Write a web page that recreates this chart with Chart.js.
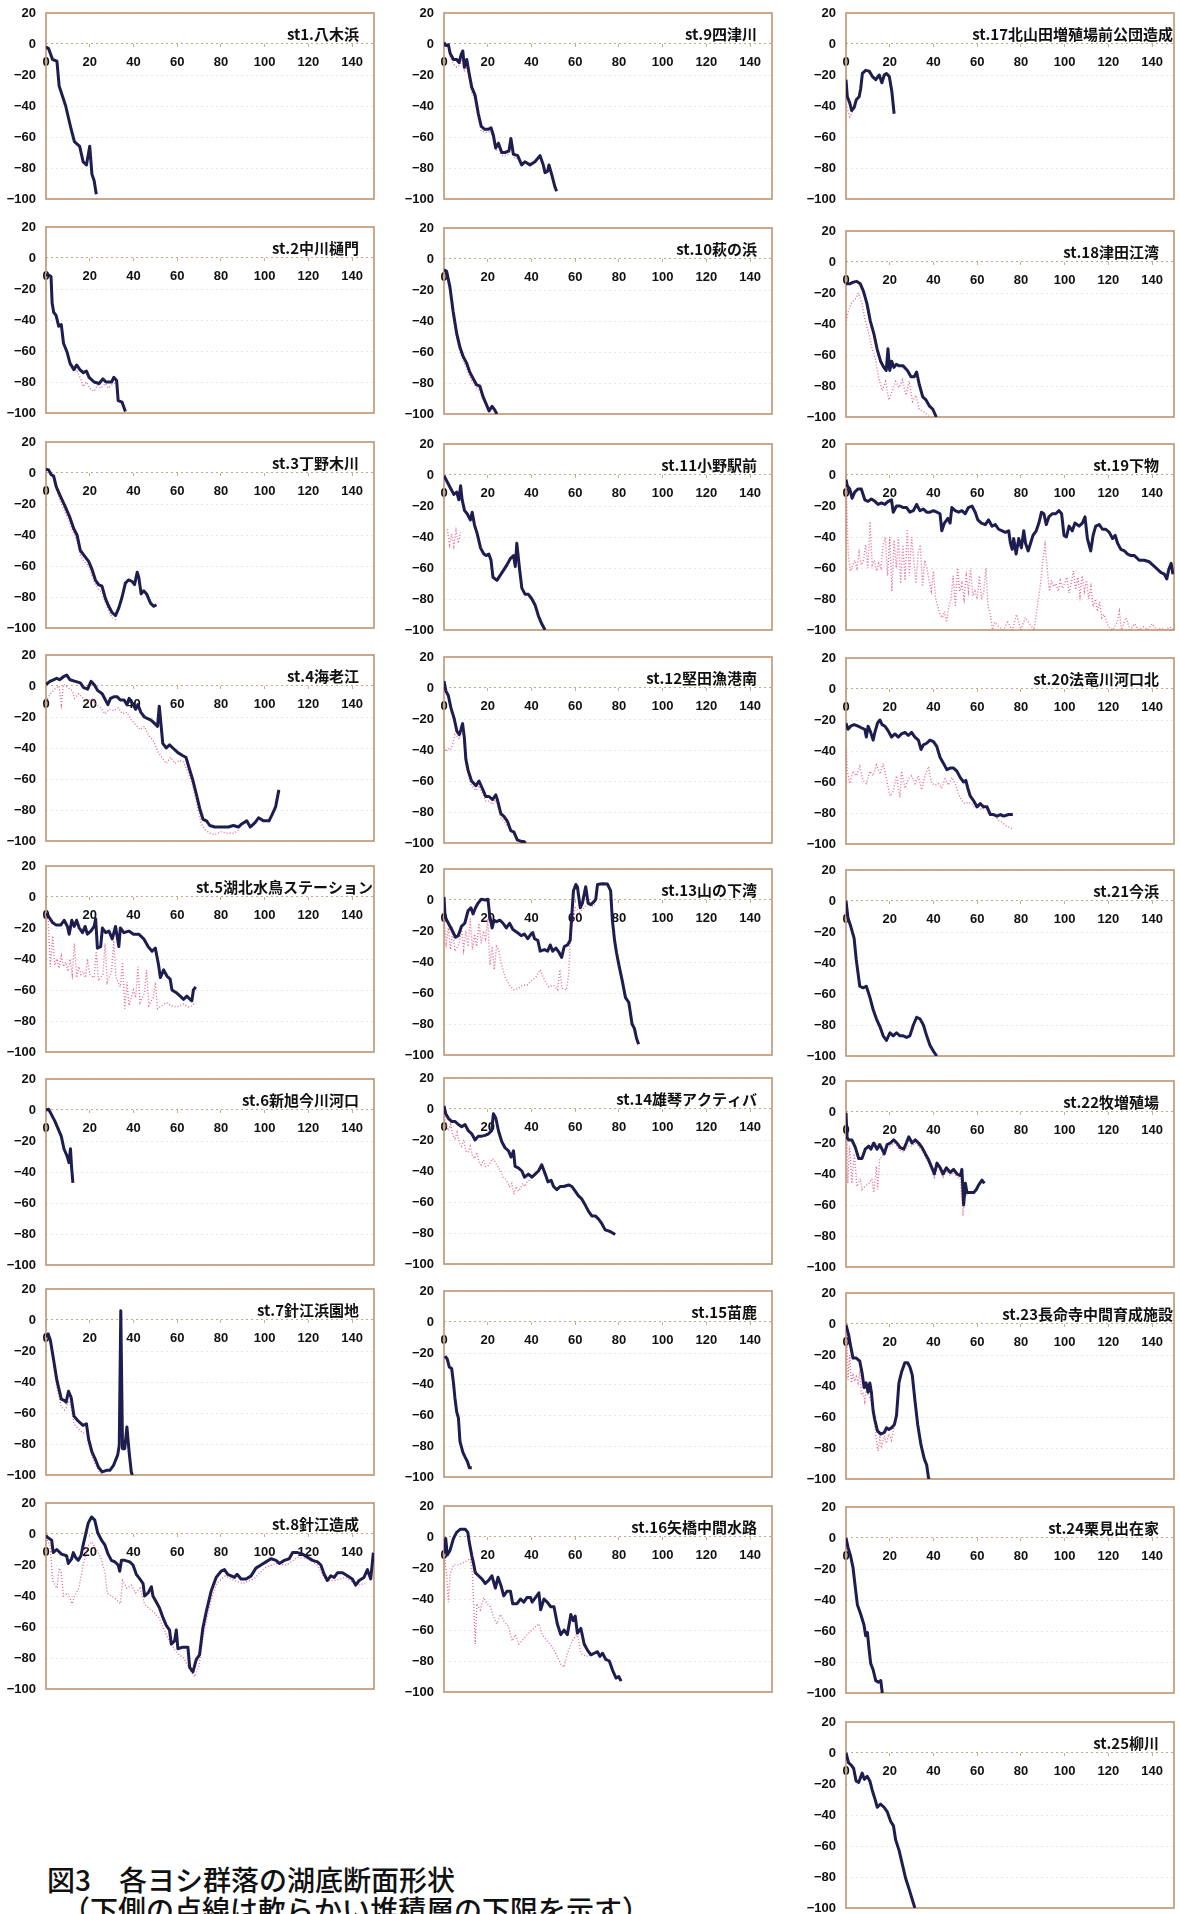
<!DOCTYPE html>
<html lang="ja">
<head>
<meta charset="utf-8">
<script src="https://cdn.jsdelivr.net/npm/chart.js@4.4.1/dist/chart.umd.min.js"></script>
<style>
  html, body { margin: 0; padding: 0; background: #fff; }
  body { width: 1180px; height: 1914px; position: relative; overflow: hidden; }
  .panel { position: absolute; }
  .caption { position: absolute; font-family: "Noto Sans CJK JP", sans-serif; font-weight: 500; color: #111; white-space: nowrap; line-height: 1; }
</style>
</head>
<body>
<div class="caption" style="left:47px; top:1865px; font-size:28px;">図3　各ヨシ群落の湖底断面形状</div>
<div class="caption" style="left:62px; top:1895px; font-size:28px;">（下側の点線は軟らかい堆積層の下限を示す）</div>

<script>
// station names, in panel order (columns top to bottom)
const titles = [
  'st1.八木浜', 'st.2中川樋門', 'st.3丁野木川', 'st.4海老江', 'st.5湖北水鳥ステーション',
  'st.6新旭今川河口', 'st.7針江浜園地', 'st.8針江造成',
  'st.9四津川', 'st.10萩の浜', 'st.11小野駅前', 'st.12堅田漁港南', 'st.13山の下湾',
  'st.14雄琴アクティバ', 'st.15苗鹿', 'st.16矢橋中間水路',
  'st.17北山田増殖場前公団造成', 'st.18津田江湾', 'st.19下物', 'st.20法竜川河口北', 'st.21今浜',
  'st.22牧増殖場', 'st.23長命寺中間育成施設', 'st.24栗見出在家', 'st.25柳川'
];

const xTicks = [0, 20, 40, 60, 80, 100, 120, 140];
const yTicks = [20, 0, -20, -40, -60, -80, -100];

// lake bottom profile [distance, depth] (solid) and lower limit of soft layer (dotted)
const bed1 = [[0,-2],[1.2,-3],[3,-10],[5,-11],[6,-27],[9,-40],[11.5,-55],[13,-63],[15.4,-66],[17,-76],[18.5,-78],[20,-66],[21,-84],[22,-88],[23,-97]];
const soft1 = [];
const bed2 = [[0,-11],[1.2,-11],[2.3,-12],[2.8,-29],[3.5,-35],[4.6,-37],[5.8,-44],[7,-43],[8,-55],[9.7,-61],[11,-68],[12.8,-72],[14,-69],[15.5,-72],[17,-74],[18.5,-73],[19.7,-77],[22,-80],[24.3,-81],[26,-78],[27.4,-80],[30,-80],[31,-77],[32.3,-79],[33,-92],[34.8,-93],[36.3,-99]];
const soft2 = [[11,-69],[12.5,-73],[14,-72],[15.5,-77],[17,-83],[18.5,-80],[20,-84],[22,-86],[23.5,-82],[25,-84],[27,-81],[28.5,-84],[30,-82],[32,-80]];
const bed3 = [[0,2.5],[1.2,2],[2.3,-1],[3.5,-2],[4.7,-9],[6.6,-15],[8.9,-22],[11,-29],[12.7,-36],[14.2,-40],[15.7,-50],[17.3,-53],[19.5,-57],[21,-62],[22.6,-69],[24,-72],[25.6,-73],[27.2,-81],[28.7,-86],[30.2,-90],[31.8,-92],[33.3,-87],[34.8,-80],[36.3,-71],[37.8,-69],[39.4,-70],[40.5,-72],[41.7,-64],[42.4,-67],[43.5,-78],[44.7,-76],[46,-78],[47.8,-84],[49.3,-86],[50.5,-85]];
const soft3 = [[4.7,-11],[6.6,-18],[8.9,-26],[11,-33],[12.7,-39],[14.2,-44],[15.7,-53],[17.3,-57],[19.5,-60],[21,-66],[22.6,-72],[24,-75],[25.6,-77],[27.2,-84],[28.7,-89],[30.2,-93],[31.8,-95]];
const bed4 = [[0,1],[1.8,3],[3.4,4],[4.9,5],[6.2,4],[8,6],[9.5,7],[11,4],[13.4,3],[15.7,2],[17.2,-1],[19,-2],[20.6,3],[22,1],[23.7,-3],[25.7,-5],[27.2,-9],[28.3,-12],[29.5,-8],[31,-7],[32.6,-7],[34,-9],[35.7,-9],[37,-12],[38,-8],[39.5,-11],[41,-15],[42,-12],[43.4,-17],[45,-20],[46.5,-21],[48,-22],[49.5,-24],[51,-26],[51.8,-13],[52.6,-25],[53.4,-37],[55,-40],[56.5,-38],[58,-40],[60.3,-43],[62.6,-45],[64,-46],[65.7,-54],[67.2,-61],[68.8,-70],[70.3,-79],[71.8,-86],[73.4,-87],[74.9,-90],[77.2,-91],[80.3,-91],[83.4,-91],[85.7,-90],[88,-91],[89.5,-89],[91.8,-87],[93.4,-91],[95.7,-88],[97.2,-85],[99.5,-87],[102,-87],[103.4,-83],[105,-78],[106.5,-67]];
const soft4 = [[0,-10],[2,-5],[4,-2],[6,0],[7,-12],[8,1],[10,-1],[12,-3],[13,-8],[15,-5],[17,-8],[19,-10],[21,-8],[23,-12],[25,-14],[27,-18],[29,-15],[31,-16],[33,-14],[35,-18],[37,-17],[39,-22],[41,-25],[43,-28],[45,-26],[47,-32],[49,-35],[51,-42],[53,-46],[55,-50],[57,-46],[59,-50],[61,-48],[63,-49],[65,-56],[67,-64],[69,-76],[71,-89],[73,-93],[75,-95],[77,-96],[80,-94],[83,-95],[86,-95],[88,-93]];
const bed5 = [[0,-10.5],[1.2,-12.6],[3,-16.5],[4.5,-18],[6.8,-18],[8.3,-15],[9.8,-19],[10.6,-24],[11.8,-15],[12.9,-19],[14,-15],[15.2,-20],[16.7,-23],[17.9,-19],[18.9,-24],[20.5,-22],[22,-19],[22.7,-14],[23.5,-33],[25,-32],[25.8,-20],[27.3,-23],[28.8,-22],[30.3,-27],[31.8,-19],[33.3,-32],[34,-20],[35.6,-23],[37.9,-22],[40,-24],[42.4,-24],[44.7,-27],[46.7,-32],[48.5,-35],[50,-33],[51.5,-44],[52.3,-52],[53.8,-47],[55.3,-51],[56.8,-53],[57.6,-60],[59.8,-62],[61.4,-64],[62.9,-66],[64.4,-64],[65.9,-66],[66.7,-67],[67.4,-60],[68.5,-58]];
const soft5 = [[0,-12],[1,-15],[2,-45],[3,-25],[4,-44],[5,-40],[6,-46],[7,-38],[8,-45],[9,-42],[10,-48],[11,-40],[12,-50],[13,-30],[14,-52],[15,-45],[16,-50],[17,-48],[18,-52],[19,-40],[20,-50],[22,-52],[23,-35],[24,-54],[26,-50],[27,-30],[28,-55],[30,-48],[31,-28],[32,-52],[34,-58],[35,-42],[36,-72],[37,-55],[38,-70],[40,-60],[41,-65],[42,-45],[43,-68],[45,-62],[46,-47],[47,-70],[49,-65],[50,-55],[51,-72],[53,-70],[55,-68],[57,-70],[60,-71],[63,-69],[65,-71],[67,-70],[68,-68]];
const bed6 = [[0,0],[1.2,0.5],[2.5,-3],[4,-7],[5.8,-13],[7,-17],[8.2,-25],[9.7,-30],[10.5,-34],[11.2,-25],[11.7,-37],[12.3,-47]];
const soft6 = [];
const bed7 = [[0,-11],[1,-9],[2,-13],[3.5,-26],[5,-39],[7,-51],[8.5,-52],[9.2,-53],[10.3,-46],[11.5,-50],[12.8,-62],[14.6,-65],[16.9,-68],[18.5,-67],[19.5,-77],[21,-85],[22.6,-90],[24,-95],[25.7,-98],[27.7,-97],[29.2,-97],[30.8,-94],[32.8,-87],[33.5,-81],[34.2,6],[35,-83],[36,-83],[37,-69],[38,-85],[39,-98],[39.5,-100]];
const soft7 = [[3.5,-30],[5,-44],[7,-56],[8.5,-58],[9.2,-57],[10.3,-52],[11.5,-56],[12.8,-67],[14.6,-70],[16.9,-73],[18.5,-72],[19.5,-80],[21,-88],[22.6,-93],[24,-97],[25.7,-100]];
const bed8 = [[0,-1],[0.6,-2],[2.6,-4],[3.3,-12],[4.9,-10],[7.1,-13],[9.4,-14],[10.2,-19],[11.7,-16],[12.5,-12],[13.5,-15],[14.7,-17],[16,-14],[17,-7],[18,-1],[19.3,7],[20.8,11],[22.3,9],[23.6,1],[25.4,-4],[26.9,-7],[28.4,-13],[29.9,-17],[31.5,-18],[33,-20],[33.7,-24],[34.5,-17],[36,-17],[38.3,-18],[39.8,-20],[41.3,-26],[42.9,-29],[44.4,-32],[45.1,-40],[46.7,-38],[48.2,-34],[48.9,-40],[50.5,-44],[52,-48],[53.5,-54],[55,-59],[56.5,-62],[57.3,-71],[58.8,-69],[59.6,-62],[60.3,-74],[62.6,-73],[64.9,-73],[65.7,-86],[67.2,-89],[68.7,-81],[70.2,-78],[71.7,-61],[73.3,-50],[75.5,-37],[77.8,-28],[80.1,-24],[81.6,-23],[83.1,-26],[84.7,-27],[86.2,-28],[87.4,-26],[89.2,-29],[91.5,-29],[93.8,-27],[96,-22],[98.3,-20],[100.6,-18],[102.9,-16],[105.2,-17],[106.7,-19],[109,-17],[111.2,-16],[112.8,-12],[115,-12],[117.3,-13],[119.6,-15],[121.9,-17],[124.2,-18],[125.7,-20],[127.2,-26],[128.7,-30],[130.2,-27],[131.8,-28],[133.3,-25],[135.6,-25],[137.8,-27],[140.1,-29],[141.6,-33],[143.2,-30],[145.4,-28],[147,-23],[148.5,-29],[149.7,-12]];
const soft8 = [[0,-2],[2,-8],[3,-30],[5,-35],[6,-22],[7,-25],[8,-40],[10,-38],[12,-45],[13,-40],[15,-35],[17,-20],[19,-8],[21,-5],[23,-10],[25,-15],[27,-25],[28,-38],[30,-40],[32,-42],[34,-45],[35,-30],[37,-35],[39,-33],[41,-38],[43,-35],[45,-45],[47,-48],[49,-50],[52,-55],[55,-65],[57,-70],[59,-75],[61,-78],[63,-80],[66,-88],[68,-92],[70,-85],[72,-65],[75,-45],[78,-32],[82,-27],[86,-30],[90,-32],[95,-29],[100,-22],[105,-19],[110,-20],[115,-15],[120,-16],[124,-20],[128,-30],[132,-30],[137,-28],[142,-33],[146,-32]];
const bed9 = [[0,1],[0.8,-1],[2,-0.5],[2.8,-6],[4.3,-10],[5.8,-10],[6.9,-12],[7.8,-7],[8.6,-4.5],[9.3,-15],[10.4,-10],[11.5,-19],[12.7,-28],[14.2,-33],[15.7,-45],[17,-53],[18.5,-55],[20.3,-55],[21.5,-54],[22.6,-59],[23.6,-67],[24.9,-64],[26.4,-70],[27.9,-70],[29.7,-69],[30.6,-61],[31.7,-71],[33.7,-72],[35.5,-78],[37,-76],[39.3,-78],[41.6,-76],[43.9,-72],[45.4,-78],[46.2,-83],[47.4,-82],[48,-78],[49.2,-84],[50.7,-92],[51.5,-95]];
const soft9 = [[2.8,-8],[4.3,-13],[5.8,-15],[6.9,-14],[8.6,-10],[9.3,-18],[10.4,-14],[11.5,-22],[12.7,-31],[14.2,-36],[15.7,-48],[17,-56],[18.5,-57],[20.3,-57],[21.5,-56],[22.6,-62],[23.6,-69],[24.9,-67],[26.4,-72],[27.9,-72],[29.7,-71],[30.6,-64],[31.7,-73],[33.7,-74]];
const bed10 = [[0,-7],[1.2,-8],[2.7,-18],[4.2,-34],[5.8,-48],[7.3,-57],[8.8,-63],[10.3,-67],[11.8,-73],[13.3,-77],[14.8,-81],[16.4,-82],[17.9,-89],[19.4,-94],[20.6,-98],[22,-95],[23,-97],[24.2,-100]];
const soft10 = [[3,-22],[4.2,-37],[5.8,-51],[7.3,-60],[8.8,-66],[10.3,-70],[11.8,-76],[13.3,-80],[14.8,-83],[16.4,-85],[17.9,-91]];
const bed11 = [[0,-0.5],[1.5,-4.5],[3,-8.5],[4.5,-12.5],[5.8,-11],[6.8,-16],[7.6,-7],[8.3,-16],[9.4,-23],[10.6,-25],[12.1,-29],[12.9,-24],[13.9,-32],[15.2,-38],[16.7,-47],[18.2,-51],[19.4,-52],[20.5,-51],[21.5,-55],[22.4,-66],[24.2,-68],[26.5,-63],[28.8,-58],[30.3,-54],[31.8,-52],[32.6,-59],[33.3,-44],[34.5,-60],[35.6,-73],[37.1,-77],[38.6,-77],[40.2,-80],[41.7,-84],[43.2,-91],[44.7,-96],[46.2,-100]];
const soft11 = [[1.5,-35],[2.5,-45],[3.5,-38],[4.5,-46],[5.5,-36],[6.5,-44],[7.5,-37]];
const bed12 = [[0,4.5],[0.9,-2],[2,-5],[3.2,-13],[4.7,-20],[5.9,-28],[7,-30],[7.7,-27],[8.5,-23],[9.3,-32],[10,-46],[11,-53],[12.6,-60],[14.6,-63],[16,-60],[17.6,-65],[19.1,-70],[20.6,-70],[22.2,-72],[23.7,-69],[24.4,-72],[26,-81],[27.5,-83],[29,-86],[30.5,-92],[32,-93],[33.5,-98],[35.4,-99],[36.6,-99],[37.3,-100]];
const soft12 = [[0,-38],[1,-41],[2,-39],[3,-40],[4,-36],[5,-30],[5.9,-31],[7,-33],[7.7,-30],[8.5,-26],[9.3,-35],[10,-49],[11,-56],[12.6,-63],[14.6,-66],[16,-63],[17.6,-68],[19.1,-73],[20.6,-73],[22.2,-75],[23.7,-72],[24.4,-75],[26,-84],[27.5,-86],[29,-89]];
const bed13 = [[0,2],[0.5,-11],[2,-15],[3.5,-19],[5.3,-24],[6.5,-23],[8,-17],[9.5,-15],[11,-7],[12.3,-5],[13.3,-9],[14.4,-5],[15.6,-2],[17,0.5],[19,0],[20.1,0.5],[20.9,-10],[22,-18],[22.9,-13],[24,-14],[25.5,-13],[27,-15],[28.5,-18],[30,-15],[31.5,-19],[33.5,-21],[35.3,-23],[36.8,-22],[38.3,-25],[39.8,-22],[40.6,-21],[41.4,-25],[42.9,-26],[44,-33],[45.9,-32],[47.4,-33],[48.6,-29],[49.7,-33],[51.2,-31],[52.7,-34],[53.8,-37],[55,-30],[56.5,-29],[57.7,-26],[58.3,-13],[59.2,6],[60.3,10],[61,8.5],[62.3,-5],[63.3,-2],[64.8,8.5],[65.9,-2],[67.1,-3],[68.6,-1],[69.4,0.5],[70.2,10],[72.4,10.5],[74.7,10.3],[76.2,6],[77,-13],[78,-26],[78.9,-34],[80,-42],[81.5,-52],[83,-63],[84.5,-66],[86,-80],[87.1,-83],[88,-89],[89,-93]];
const soft13 = [[0,-12],[1,-28],[2,-18],[3,-32],[4,-20],[5,-33],[7,-28],[8,-18],[9,-32],[10,-20],[11,-30],[12,-12],[13,-32],[14,-22],[15,-30],[16,-15],[17,-28],[18,-20],[19,-25],[20,-12],[21,-42],[22,-30],[23,-45],[24,-30],[25,-32],[26,-40],[28,-50],[30,-55],[32,-58],[34,-57],[36,-55],[38,-55],[40,-52],[42,-50],[44,-45],[46,-52],[48,-56],[50,-55],[52,-58],[53,-45],[54,-57],[56,-58],[57,-48],[58,-20],[60,-5],[62,-8],[64,-5],[66,-2],[68,-4],[69,-3]];
const bed14 = [[0,2],[0.8,-3],[2,-6],[3.5,-8],[5,-8],[6.6,-10],[8.1,-11.5],[9.6,-10],[11.1,-14],[12.7,-16],[14.2,-20],[15.7,-17.5],[17.3,-17.5],[18.8,-17],[20.3,-16],[21.8,-14],[22.6,-3],[23.7,-6],[24.9,-14],[26.4,-21],[27.9,-25],[29.5,-27],[30.7,-31],[31.8,-27],[32.5,-37],[34,-38],[35.6,-40],[36.8,-44],[38.6,-42],[40.2,-44],[41.7,-42],[43.2,-40],[44.7,-36],[46.3,-42],[47.5,-47],[49,-46],[50.1,-50],[51.6,-52],[53.1,-50],[54.7,-50],[57,-49],[58.5,-50],[60,-53],[61.5,-56],[63,-58],[64.6,-62],[66.1,-66],[67.6,-69],[69.2,-69],[70.7,-71],[72.2,-74],[73.7,-78],[76,-79],[78.3,-81]];
const soft14 = [[0,-3],[1,-10],[2,-14],[3,-10],[4,-17],[5,-19],[6,-15],[7,-22],[8,-24],[9,-20],[10,-27],[11,-28],[12,-24],[13,-30],[14,-32],[15,-28],[16,-34],[17,-36],[18,-33],[19,-37],[20,-37],[21,-35],[22,-32],[23,-33],[24,-36],[25,-38],[26,-40],[27,-44],[28,-45],[29,-47],[30,-50],[31,-48],[32,-55],[33,-50],[34,-53],[35,-51],[36,-48],[37,-50],[38,-47],[39,-46],[40,-44],[41,-43]];
const bed15 = [[0.5,-22],[1.5,-24],[2.4,-29],[3.5,-30],[4.3,-39],[5,-49],[5.8,-58],[6.6,-62],[7.3,-77],[8.6,-84],[9.6,-87],[10.7,-90],[11.6,-94],[12.7,-94]];
const soft15 = [];
const bed16 = [[0,-10.6],[0.8,-1],[1.5,-11.6],[2.8,-8.5],[4.3,-1],[5.8,3],[7.4,5],[9.7,5],[10.9,3],[11.5,-3],[12.7,-12],[13.5,-17],[14.3,-23],[15.8,-25],[17.3,-27],[18.9,-30],[20.4,-28],[21.9,-25],[23.5,-33],[24.7,-26],[26.2,-32],[27.3,-38],[28.8,-35],[30.4,-35],[31.4,-43],[33.4,-43],[35,-40],[36.5,-42],[38,-39],[39.6,-39],[40.3,-42],[41.9,-39],[43.4,-36],[44.2,-47],[45.7,-40],[47.2,-42],[48.8,-45],[50.3,-45],[51.8,-56],[53.4,-63],[54.9,-60],[56.4,-63],[58,-50],[59.1,-54],[60,-51],[61,-62],[62.6,-59],[64.1,-69],[65.6,-73],[67.2,-76],[68.7,-75],[70.2,-74],[71.3,-77],[72.5,-75],[74,-79],[75.6,-80],[77.1,-86],[78.7,-91],[79.9,-90],[81,-93]];
const soft16 = [[0,-11],[1.2,-24],[2,-42],[2.8,-24],[4.3,-18],[6.6,-18],[9.7,-16],[12,-14],[13,-24],[14.3,-69],[15,-43],[16.6,-47],[18.1,-39],[19.6,-43],[21.2,-45],[22.7,-52],[24.2,-56],[25.8,-50],[27.3,-54],[29.6,-58],[31.1,-67],[32.7,-63],[34.2,-69],[35.7,-67],[38,-63],[40.3,-60],[43.4,-56],[44.9,-63],[47.2,-67],[49.5,-71],[51.8,-77],[53.4,-82],[54.9,-84],[56.4,-75],[58.7,-67],[61,-62],[62.6,-75],[64.9,-77],[67.9,-76]];
const bed17 = [[0,-23],[0.6,-34],[1.7,-38],[2.6,-43],[3.7,-41],[4.7,-36],[6,-34],[6.7,-29],[7.5,-19],[9,-17],[10.6,-17.5],[12.1,-21],[13.6,-23],[15.2,-20],[16.4,-25],[17.5,-20],[18.5,-19],[19.8,-21],[21,-31],[22,-45]];
const soft17 = [[0,-39],[0.6,-42],[1.7,-47],[2.9,-44],[3.7,-43]];
const bed18 = [[0,-14],[1.9,-14],[3.4,-13],[4.9,-12.5],[6.5,-14],[8,-19],[9.6,-27],[11.1,-38],[12.7,-46],[14.2,-56],[15.8,-64],[17.3,-68],[18.4,-70],[19.2,-56],[20,-70],[20.9,-64],[21.9,-68],[23,-66],[24.3,-67],[26.1,-67],[28.1,-70],[29.7,-74],[31.2,-74],[32.3,-71],[33.5,-79],[35.1,-87],[36.6,-89],[38.2,-93],[39.7,-95],[41.3,-100]];
const soft18 = [[0,-38],[1.1,-32],[2.6,-26],[4.2,-24],[5.7,-20],[7.3,-27],[8.8,-38],[10.4,-46],[11.9,-56],[13.4,-62],[15,-75],[16.5,-83],[18.1,-77],[19.6,-89],[21.2,-83],[22.7,-77],[24.3,-81],[25.8,-76],[27.4,-86],[28.9,-77],[30.4,-90],[32,-86],[33.5,-95],[35.9,-97],[38.2,-100]];
const bed19 = [[0,-3],[0.6,-7],[1.7,-9],[2.8,-15],[4,-11],[5.5,-9],[7,-9],[8.6,-16],[10.1,-17],[11.6,-15.5],[13.2,-17],[14.7,-19],[16.2,-18],[17.8,-19],[19.3,-17],[20.8,-16],[21.6,-24],[23.1,-20],[24.7,-20],[26.2,-21],[27.7,-21],[29.2,-24],[30.8,-23],[32.3,-19],[33.8,-23],[35.4,-22],[36.9,-24],[38.4,-24],[40,-23],[41.5,-24],[43,-25],[43.8,-36],[45,-31],[46.6,-28],[47.6,-31],[48.4,-21],[49.9,-23],[51.5,-24],[53,-23],[54.5,-25],[56,-21],[57.6,-20],[59.1,-24],[60.3,-29],[61.9,-31],[63.7,-32],[65.2,-29],[66.8,-33],[68.3,-32],[69.8,-35],[71.4,-36],[72.9,-37],[74.4,-36],[75.2,-44],[76,-48],[76.7,-41],[77.8,-51],[79,-41],[80.2,-47],[81.3,-36],[82.1,-44],[83.3,-49],[84.4,-44],[85.5,-39],[87,-36],[88.2,-31],[89.4,-24],[90.5,-25],[91.6,-32],[92.8,-27],[94.3,-25],[95.9,-25],[97.4,-23],[98.6,-25],[99.7,-39],[100.8,-40],[102,-33],[103.5,-36],[104.7,-31],[106.6,-33],[108.1,-31],[109.3,-27],[110.4,-41],[111.9,-49],[113,-39],[114.2,-33],[115.8,-32],[117.3,-35],[118.8,-35],[120.4,-37],[121.9,-41],[123.1,-39],[124.2,-44],[125.7,-48],[127.3,-49],[128.8,-51],[130.3,-52],[131.9,-52],[134.1,-55],[136.4,-55],[138.7,-56],[141,-59],[142.6,-61],[144.1,-63],[145.6,-64],[146.7,-67],[147.6,-61],[148.7,-57],[149.5,-64]];
const soft19 = [[0,-5],[1,-50],[2,-62],[4,-55],[5,-60],[6,-50],[7,-58],[8,-55],[9,-45],[10,-60],[11,-30],[12,-58],[13,-55],[14,-62],[15,-57],[16,-60],[17,-45],[18,-40],[19,-65],[20,-40],[21,-75],[22,-42],[23,-60],[24,-40],[25,-70],[26,-45],[27,-68],[28,-35],[29,-65],[30,-40],[31,-55],[32,-70],[33,-50],[34,-45],[35,-72],[36,-55],[37,-60],[38,-68],[39,-75],[40,-62],[41,-80],[42,-85],[43,-90],[44,-92],[45,-88],[46,-95],[47,-85],[48,-80],[49,-65],[50,-85],[51,-60],[52,-75],[53,-70],[54,-80],[55,-65],[56,-75],[57,-60],[58,-78],[59,-75],[60,-80],[61,-65],[62,-80],[63,-75],[64,-60],[65,-85],[66,-90],[67,-100],[68,-95],[70,-98],[72,-100],[74,-95],[76,-100],[78,-90],[80,-100],[82,-92],[84,-96],[86,-100],[88,-80],[89,-70],[90,-55],[91,-45],[92,-60],[93,-75],[94,-68],[95,-72],[96,-70],[97,-75],[98,-68],[99,-73],[100,-70],[101,-66],[102,-76],[103,-70],[104,-62],[105,-74],[106,-66],[107,-78],[108,-65],[109,-75],[110,-68],[111,-80],[112,-72],[113,-85],[114,-80],[115,-88],[116,-82],[117,-92],[118,-90],[120,-98],[122,-100],[124,-95],[125,-88],[126,-100],[128,-92],[130,-100],[132,-96],[134,-100],[136,-98],[138,-100],[140,-96],[142,-100],[144,-99],[146,-100],[148,-98],[150,-100]];
const bed20 = [[0,-22],[0.9,-26],[2.1,-24],[3.7,-23],[5.5,-24],[7,-25],[8.6,-26],[9.3,-31],[10.1,-24],[11.3,-28],[12.4,-33],[13.2,-28],[14.4,-22],[15.5,-20],[16.5,-23],[17.8,-24],[19.3,-27],[20.8,-31],[22.4,-29],[23.9,-31],[25.4,-29],[27,-28],[28.5,-30],[30,-28],[31.5,-31],[33.1,-33],[34.3,-39],[35.4,-36],[36.9,-35],[38.4,-33],[40,-34],[41.5,-37],[43,-44],[44.6,-48],[46.1,-52],[47.6,-51],[49.2,-51],[50.7,-53],[52.2,-57],[53.8,-60],[54.8,-59],[55.7,-64],[56.8,-69],[58.3,-72],[59.9,-76],[61.4,-74],[62.9,-76],[64.5,-76],[66,-81],[67.5,-81],[69,-82],[70.6,-81],[72.1,-82],[74.4,-81],[76.3,-81]];
const soft20 = [[0,-35],[0.6,-53],[1.7,-61],[3.2,-53],[4.7,-56],[6.3,-50],[7.8,-59],[9.3,-61],[10.9,-53],[12.4,-56],[13.9,-49],[15.5,-55],[17,-48],[18.5,-58],[20.1,-69],[21.6,-66],[23.1,-56],[24.7,-70],[25.4,-53],[27,-64],[28.5,-58],[30,-56],[31.5,-61],[33.1,-56],[34.6,-65],[36.1,-56],[37.7,-50],[39.2,-61],[40.7,-62],[42.3,-61],[43.8,-64],[45.3,-58],[46.9,-62],[48.4,-57],[49.9,-61],[51.5,-68],[53,-72],[54.5,-74],[56,-73],[57.6,-74],[59.1,-77],[60.6,-76],[62.2,-78],[63.7,-76],[65.2,-80],[66.8,-81],[68.3,-81],[69.8,-85],[71.4,-86],[72.9,-88],[74.4,-89],[75.9,-90]];
const bed21 = [[0,0],[0.9,-11],[2.1,-16],[3.7,-24],[4.7,-38],[6.3,-55],[7.8,-56],[9.3,-55],[10.9,-62],[12.4,-70],[13.9,-76],[15.5,-81],[17,-87],[18.5,-90],[20.1,-85],[21.6,-87],[23.1,-85],[24.7,-87],[26.2,-87],[27.7,-88],[29.2,-87],[30.8,-80],[32.3,-75],[33.8,-76],[35.4,-80],[36.9,-87],[38.4,-93],[40,-97],[41.5,-100]];
const soft21 = [];
const bed22 = [[0,-0.5],[0.5,-16.5],[1.2,-18],[2.7,-18],[4.3,-23],[5.8,-30],[7.3,-30],[8.8,-24],[10.4,-22],[11.4,-24],[12.7,-20],[14.2,-24],[15.4,-21],[16.5,-24],[17.5,-27],[18.8,-21],[20.3,-20],[21.8,-18],[23.3,-20],[24.8,-23],[26.4,-24],[27.6,-20],[28.7,-16],[30.2,-20],[31.7,-18],[33.2,-20],[34.8,-23],[36.3,-27],[37.8,-31],[39.3,-36],[40.4,-40],[41.6,-33],[43.1,-36],[44.4,-40],[45.9,-36],[47.7,-39],[49.2,-37],[50.8,-40],[52.3,-41],[53,-37],[53.8,-60],[54.6,-46],[55.3,-52],[56.9,-52],[58.4,-52],[59.6,-50],[60.7,-47],[62.2,-44],[63.3,-46]];
const soft22 = [[0.5,-19],[0.8,-46],[1.6,-22],[2.7,-46],[3.8,-27],[5,-48],[6.6,-43],[7.3,-50],[8.8,-48],[10.4,-46],[11.9,-43],[12.7,-52],[13.9,-35],[14.5,-50],[15.4,-30],[16.5,-29],[17.3,-26],[18.8,-23],[20.3,-22],[21.8,-20],[23.3,-22],[24.8,-25],[26.4,-26],[28,-22],[30.2,-22],[31.7,-20],[33.2,-22],[34.8,-25],[36.3,-29],[37.8,-33],[39.3,-38],[40.4,-42],[41.6,-35],[43.1,-38],[44.4,-42],[45.9,-38],[47.7,-41],[49.2,-39],[50.8,-42],[52.3,-43],[53.5,-67],[54.6,-51],[55.3,-54]];
const bed23 = [[0,-0.5],[1.2,-7],[2.1,-14],[3.2,-22],[4.7,-22],[6.3,-24],[7.4,-32],[8.3,-41],[9.2,-38],[10.1,-44],[10.9,-38],[11.6,-44],[12.4,-56],[13.2,-62],[14.4,-69],[15.9,-71],[17.5,-70],[18.5,-67],[19.6,-68],[20.8,-67],[22.1,-65],[23.1,-59],[24.2,-38],[25.4,-31],[26.9,-25],[28.2,-25],[29.3,-28],[30.3,-33],[31.5,-49],[32.8,-65],[34.3,-78],[35.8,-87],[36.9,-91],[37.7,-99],[38.1,-100]];
const soft23 = [[0.4,-3],[0.9,-36],[1.7,-20],[2.4,-38],[3.2,-33],[4,-37],[4.7,-34],[5.5,-38],[6.3,-30],[7,-46],[7.8,-44],[8.6,-50],[9.3,-42],[10.1,-46],[11.3,-49],[12.4,-54],[13.2,-66],[13.9,-75],[14.7,-82],[15.5,-72],[16.2,-80],[17.5,-72],[18.5,-77],[19.6,-71],[20.8,-75],[22,-66]];
const bed24 = [[0,0],[1,-6.5],[2.1,-11.6],[3.2,-19],[4.1,-30],[5.2,-43],[6.7,-49],[8.2,-56],[9,-63],[9.8,-61],[10.5,-71],[11.3,-81],[12.4,-85],[13.6,-92],[14.8,-93],[15.9,-92],[16.6,-100]];
const soft24 = [];
const bed25 = [[0,0],[1.2,-6.4],[2.3,-7.7],[3.5,-10],[4.6,-18],[5.8,-19],[7.4,-13],[8.4,-17],[9.7,-15],[10.9,-18],[12,-24],[13.1,-29],[14.3,-35],[15.8,-33],[17.4,-35],[18.9,-38],[20.4,-44],[21.7,-47],[22.7,-56],[24.3,-63],[25.8,-72],[27.3,-81],[28.9,-88],[30.4,-95],[31.5,-100]];
const soft25 = [];

const beds = [bed1, bed2, bed3, bed4, bed5, bed6, bed7, bed8, bed9, bed10, bed11, bed12, bed13,
  bed14, bed15, bed16, bed17, bed18, bed19, bed20, bed21, bed22, bed23, bed24, bed25];
const softs = [soft1, soft2, soft3, soft4, soft5, soft6, soft7, soft8, soft9, soft10, soft11, soft12, soft13,
  soft14, soft15, soft16, soft17, soft18, soft19, soft20, soft21, soft22, soft23, soft24, soft25];

// page layout: plot-area left edge per column, plot-area tops per column
const colLeft = [46, 444, 846];
const colTops = [
  [13, 227, 442, 655, 866, 1079, 1289, 1503],
  [13, 228, 444, 657, 869, 1078, 1291, 1506],
  [13, 231, 444, 658, 870, 1081, 1293, 1507, 1722]
];
// vertical padding must exceed half a tick label + tick padding, or Chart.js shrinks the plot
const plotW = 328, plotH = 186, axisW = 46, padT = 20, padB = 20, padR = 6;

const numFont = { family: 'Liberation Sans', size: 13, weight: 'bold' };

// plot frame + station name inside the plot
const framePlugin = {
  id: 'frame',
  beforeDatasetsDraw(chart) {
    const { ctx, chartArea: a } = chart;
    ctx.save();
    ctx.strokeStyle = '#c29a78';
    ctx.lineWidth = 1.7;
    ctx.strokeRect(a.left, a.top, a.right - a.left, a.bottom - a.top);
    ctx.restore();
  },
  afterDatasetsDraw(chart, args, opts) {
    const { ctx, chartArea: a, scales } = chart;
    ctx.save();
    ctx.font = 'bold 15px "Noto Sans CJK JP"';
    ctx.fillStyle = '#111';
    ctx.textAlign = 'right';
    ctx.textBaseline = 'middle';
    const w = ctx.measureText(opts.text).width;
    const margin = w > 160 ? 1 : 15;
    ctx.fillText(opts.text, a.right - margin, scales.y.getPixelForValue(6.5));
    ctx.restore();
  }
};

let idx = 0;
colTops.forEach((tops, c) => {
  tops.forEach(top => {
    const i = idx++;
    const div = document.createElement('div');
    div.className = 'panel';
    div.style.left = (colLeft[c] - axisW) + 'px';
    div.style.top = (top - padT) + 'px';
    const canvas = document.createElement('canvas');
    canvas.width = axisW + plotW + padR;
    canvas.height = padT + plotH + padB;
    div.appendChild(canvas);
    document.body.appendChild(div);

    new Chart(canvas, {
      type: 'line',
      data: {
        datasets: [{
          data: beds[i],
          borderColor: '#1d1d4f',
          borderWidth: 3,
          pointRadius: 0,
          tension: 0,
          borderJoinStyle: 'round'
        }, {
          data: softs[i],
          borderColor: 'rgba(228,84,128,0.85)',
          borderWidth: 1.4,
          borderDash: [1, 2],
          pointRadius: 0,
          tension: 0
        }]
      },
      options: {
        responsive: false,
        animation: false,
        layout: { padding: { top: padT, bottom: padB, left: 0, right: padR } },
        plugins: {
          legend: { display: false },
          tooltip: { enabled: false },
          frame: { text: titles[i] }
        },
        scales: {
          x: {
            type: 'linear',
            min: 0,
            max: 150,
            position: { y: 0 },
            afterBuildTicks: s => { s.ticks = xTicks.map(v => ({ value: v })); },
            ticks: { color: '#111', font: numFont, padding: 8, maxRotation: 0, autoSkip: false },
            grid: { drawOnChartArea: false, drawTicks: true, tickLength: 3, color: '#c8b28c' },
            border: { display: false }
          },
          y: {
            min: -100,
            max: 20,
            afterBuildTicks: s => { s.ticks = yTicks.map(v => ({ value: v })); },
            afterFit: s => { s.width = axisW; },
            ticks: {
              color: '#111',
              font: numFont,
              padding: 10,
              callback: v => String(v).replace('-', '\u2212')
            },
            grid: {
              drawTicks: false,
              color: ctx => ctx.tick && ctx.tick.value === 0 ? '#bda983' : '#e6e6e6',
              lineWidth: 1
            },
            border: { display: false, dash: [2, 3] }
          }
        }
      },
      plugins: [framePlugin]
    });
  });
});
</script>
</body>
</html>
